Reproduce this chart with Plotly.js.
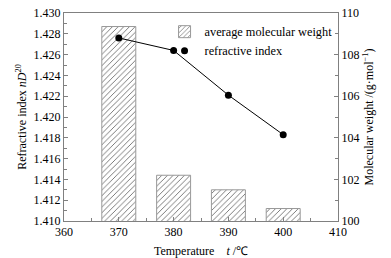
<!DOCTYPE html>
<html><head><meta charset="utf-8">
<script src="https://cdn.plot.ly/plotly-3.0.1.min.js"></script>
<style>body{margin:0;background:#fff}#c{width:391px;height:258px}</style>
</head><body><div id="c"></div>
<script>
const temps = [370, 380, 390, 400];
const molWeight = [109.35, 102.2, 101.5, 100.6];
const refIndex = [1.4276, 1.4264, 1.4221, 1.4183];

const F = 'Liberation Serif, Times New Roman, serif';
const axCol = '#808080';
const data = [
  {type:'bar', x:temps, y:molWeight, yaxis:'y', width:6.2, name:'average molecular weight',
   marker:{color:'white', line:{color:'#999999', width:1},
     pattern:{shape:'/', fgcolor:'#6a6a6a', bgcolor:'white', size:4, solidity:0.22}}},
  {type:'scatter', mode:'lines', x:temps, y:refIndex, yaxis:'y2', showlegend:false,
   line:{color:'black', width:1}},
  {type:'scatter', mode:'markers', x:temps, y:refIndex, yaxis:'y2', name:'refractive index',
   marker:{color:'black', size:7}}
];
const layout = {
  width:391, height:258, margin:{l:64, r:53, t:13, b:37},
  paper_bgcolor:'white', plot_bgcolor:'white', showlegend:true,
  font:{family:F, size:12, color:'black'},
  xaxis:{range:[360,410], dtick:10, tick0:360, ticks:'inside', ticklen:4, tickcolor:axCol,
    minor:{dtick:5, ticks:'inside', ticklen:3, tickcolor:axCol},
    showline:true, linecolor:axCol, linewidth:1, mirror:true, showgrid:false, zeroline:false,
    title:{text:'Temperature&nbsp;&nbsp;&nbsp;&nbsp;<i>t</i> /℃', font:{size:12}, standoff:8}},
  yaxis:{side:'right', range:[100,110], dtick:2, ticks:'inside', ticklen:4, tickcolor:axCol,
    minor:{dtick:1, ticks:'inside', ticklen:3, tickcolor:axCol},
    showline:true, linecolor:axCol, linewidth:1, showgrid:false, zeroline:false,
    title:{text:'Molecular weight /(g·mol<sup>−1</sup>)', font:{size:12}, standoff:6}},
  yaxis2:{side:'left', overlaying:'y', range:[1.410,1.430], dtick:0.002, tickformat:'.3f',
    ticks:'inside', ticklen:4, tickcolor:axCol,
    minor:{dtick:0.001, ticks:'inside', ticklen:3, tickcolor:axCol},
    showline:true, linecolor:axCol, linewidth:1, showgrid:false, zeroline:false,
    title:{text:'Refractive index <i>nD</i><sup>20</sup>', font:{size:12}, standoff:4}},
  legend:{x:0.367, y:0.98, xanchor:'left', yanchor:'top', bgcolor:'rgba(0,0,0,0)',
    font:{size:12.3}, tracegroupgap:0, itemwidth:30}
};
Plotly.newPlot('c', data, layout, {staticPlot:true});
</script></body></html>
